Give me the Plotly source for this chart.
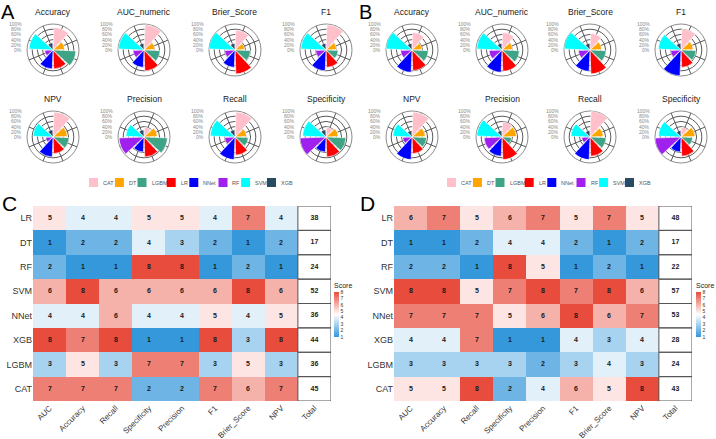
import plotly.graph_objects as go

W, H = 716, 439
FONT = "Liberation Sans"

# ---------------- data ----------------
models = ["CAT", "DT", "LGBM", "LR", "NNet", "RF", "SVM", "XGB"]
model_colors = ["#FFC0CB", "#FFA500", "#3EA485", "#FF0000", "#0000FF", "#A020F0", "#00FFFF", "#284B64"]
polar_metrics = ["Accuracy", "AUC_numeric", "Brier_Score", "F1", "NPV", "Precision", "Recall", "Specificity"]

# panel A rose values (% of max radius), order = models
A_accuracy    = [87, 45, 88, 73, 73, 32, 92, 28]
A_auc         = [97, 42, 62, 80, 67, 42, 98, 26]
A_brier       = [77, 37, 60, 92, 67, 40, 100, 26]
A_f1          = [97, 41, 47, 67, 80, 40, 97, 26]
A_npv         = [96, 55, 62, 64, 77, 28, 77, 28]
A_precision   = [38, 51, 90, 77, 58, 96, 70, 28]
A_recall      = [96, 45, 51, 70, 87, 40, 95, 28]
A_specificity = [38, 47, 77, 77, 58, 100, 90, 28]

# panel B rose values
B_accuracy    = [68, 38, 63, 79, 86, 44, 100, 26]
B_auc         = [68, 41, 67, 82, 86, 50, 97, 26]
B_brier       = [64, 45, 62, 92, 82, 45, 100, 26]
B_f1          = [81, 47, 58, 67, 99, 40, 87, 26]
B_npv         = [96, 51, 56, 64, 87, 36, 74, 25]
B_precision   = [58, 56, 37, 87, 74, 69, 97, 25]
B_recall      = [99, 51, 62, 74, 87, 32, 74, 25]
B_specificity = [38, 54, 45, 74, 58, 100, 87, 25]

radial_labels = ["0%", "20%", "40%", "60%", "80%", "100%"]

heat_metrics = ["AUC", "Accuracy", "Recall", "Specificity", "Precision", "F1", "Brier_Score", "NPV"]
heat_models = ["LR", "DT", "RF", "SVM", "NNet", "XGB", "LGBM", "CAT"]
C_scores = [
    [5, 4, 4, 5, 5, 4, 7, 4],
    [1, 2, 2, 4, 3, 2, 1, 2],
    [2, 1, 1, 8, 8, 1, 2, 1],
    [6, 8, 6, 6, 6, 6, 8, 6],
    [4, 4, 6, 4, 4, 5, 4, 5],
    [8, 7, 8, 1, 1, 8, 3, 8],
    [3, 5, 3, 7, 7, 3, 5, 3],
    [7, 7, 7, 2, 2, 7, 6, 7],
]
C_totals = [38, 17, 24, 52, 36, 44, 36, 45]
D_scores = [
    [6, 7, 5, 6, 7, 5, 7, 5],
    [1, 1, 2, 4, 4, 2, 1, 2],
    [2, 2, 1, 8, 5, 1, 2, 1],
    [8, 8, 5, 7, 8, 7, 8, 6],
    [7, 7, 7, 5, 6, 8, 6, 7],
    [4, 4, 7, 1, 1, 4, 3, 4],
    [3, 3, 3, 3, 2, 3, 4, 3],
    [5, 5, 8, 2, 4, 6, 5, 8],
]
D_totals = [48, 17, 22, 57, 53, 28, 24, 43]

A_vals = [A_accuracy, A_auc, A_brier, A_f1, A_npv, A_precision, A_recall, A_specificity]
B_vals = [B_accuracy, B_auc, B_brier, B_f1, B_npv, B_precision, B_recall, B_specificity]

# ---------------- helpers ----------------
def px(x):
    return x / W

def py(y):
    return 1 - y / H

fig = go.Figure()
annotations = []
shapes = []

R = 26
GRID = "#5a5a5a"
panels = [
    ("A", A_vals, [53, 144, 235, 326], 0, 89),
    ("B", B_vals, [412, 502, 590, 681], 358, 447),
]
row_cy = [50, 137]

n = 0
for letter, vals, cxs, xoff, leg_x0 in panels:
    annotations.append(dict(x=px(xoff), y=py(1), xref="paper", yref="paper", text=letter,
                            showarrow=False, xanchor="left", yanchor="top", width=14, height=19,
                            borderpad=0, align="left", valign="middle",
                            font=dict(family=FONT, size=20, color="black")))
    for i, metric in enumerate(polar_metrics):
        n += 1
        name = "polar" if n == 1 else f"polar{n}"
        cx = cxs[i % 4]
        cy = row_cy[i // 4]
        fig.add_trace(go.Barpolar(
            r=vals[i], theta=models, subplot=name,
            marker=dict(color=model_colors, line=dict(color="white", width=0.6)),
            showlegend=False, hoverinfo="skip"))
        fig.layout[name] = dict(
            domain=dict(x=[px(cx - R), px(cx + R)], y=[py(cy + R), py(cy - R)]),
            bgcolor="white",
            angularaxis=dict(rotation=67.5, direction="clockwise", showticklabels=False, ticks="",
                             showline=True, linecolor=GRID, linewidth=0.7,
                             gridcolor=GRID, gridwidth=0.6, layer="below traces"),
            radialaxis=dict(range=[0, 100], tickvals=[20, 40, 60, 80, 100], showticklabels=False,
                            ticks="", showline=False, gridcolor=GRID, gridwidth=0.6,
                            layer="below traces"),
        )
        annotations.append(dict(x=px(cx), y=py(cy - 38), xref="paper", yref="paper", text=metric,
                                showarrow=False, xanchor="center", yanchor="middle",
                                font=dict(family=FONT, size=8.5, color="#1a1a1a")))
        for k, lab in enumerate(radial_labels):
            annotations.append(dict(x=px(cx - 30), y=py(cy - R * k / 5), xref="paper", yref="paper",
                                    text=lab, showarrow=False, xanchor="right", yanchor="middle",
                                    borderpad=0,
                                    font=dict(family=FONT, size=5, color="#8a8a8a")))
    # manual legend
    lx = leg_x0
    ly = 182.5
    for m, c in zip(models, model_colors):
        shapes.append(dict(type="rect", xref="paper", yref="paper", x0=px(lx), x1=px(lx + 9),
                           y0=py(ly + 4.5), y1=py(ly - 4.5), fillcolor=c, line=dict(width=0)))
        annotations.append(dict(x=px(lx + 12), y=py(ly), xref="paper", yref="paper", text=m,
                                showarrow=False, xanchor="left", yanchor="middle",
                                font=dict(family=FONT, size=5.5, color="#555555")))
        lx += 9 + 3 + len(m) * 3.3 + 4

# ---------------- heatmaps ----------------
def lerp(c1, c2, t):
    return "rgb(%d,%d,%d)" % tuple(round(a + (b - a) * t) for a, b in zip(c1, c2))

blue = (52, 152, 219)
white = (255, 255, 255)
red = (231, 76, 60)
cscale = []
steps = 14
for s in range(steps + 1):
    t = s / steps
    v = 1 + 7 * t
    if v <= 4.5:
        col = lerp(blue, white, (v - 1) / 3.5)
    else:
        col = lerp(white, red, (v - 4.5) / 3.5)
    cscale.append([t, col])

xcats = heat_metrics + ["Total"]
heat_panels = [
    ("C", C_scores, C_totals, "x", "y", 33, 331, 0, 334),
    ("D", D_scores, D_totals, "x2", "y2", 394, 692, 358, 696),
]
top, bottom = 206, 401
for letter, scores, totals, xa, ya, x0, x1, xoff, cbx in heat_panels:
    fig.add_trace(go.Heatmap(
        z=scores, x=heat_metrics, y=heat_models, xaxis=xa, yaxis=ya,
        colorscale=cscale, zmin=1, zmax=8,
        texttemplate="%{z}", textfont=dict(family=FONT, size=7, color="#1a1a1a", weight="bold"),
        hoverinfo="skip",
        colorbar=dict(title=dict(text="Score", side="top", font=dict(family=FONT, size=7, color="#222")),
                      x=px(cbx), xanchor="left", y=py((280 + 337) / 2), yanchor="middle",
                      len=57, lenmode="pixels", thickness=5, thicknessmode="pixels",
                      xpad=0, ypad=0, outlinewidth=0, tickvals=list(range(1, 9)), ticks="",
                      tickfont=dict(family=FONT, size=5, color="#333"))))
    fig.add_trace(go.Scatter(
        x=["Total"] * len(totals), y=heat_models, text=[str(t) for t in totals], mode="text",
        xaxis=xa, yaxis=ya, textfont=dict(family=FONT, size=7, color="#1a1a1a", weight="bold"),
        showlegend=False, hoverinfo="skip"))
    for j in range(len(heat_models)):
        shapes.append(dict(type="rect", xref=xa, yref=ya, x0=len(heat_metrics) - 0.5,
                           x1=len(heat_metrics) + 0.5, y0=j - 0.5, y1=j + 0.5,
                           fillcolor="rgba(0,0,0,0)", line=dict(color="#555555", width=1),
                           layer="above"))
    axname_x = "xaxis" if xa == "x" else "xaxis2"
    axname_y = "yaxis" if ya == "y" else "yaxis2"
    fig.layout[axname_x] = dict(domain=[px(x0), px(x1)], anchor=ya, type="category",
                                categoryorder="array", categoryarray=xcats,
                                range=[-0.5, len(xcats) - 0.5], tickangle=-45, showgrid=False,
                                zeroline=False, showline=False, ticks="",
                                tickfont=dict(family=FONT, size=8, color="#333333"))
    fig.layout[axname_y] = dict(domain=[py(bottom), py(top)], anchor=xa, type="category",
                                categoryorder="array", categoryarray=heat_models,
                                range=[len(heat_models) - 0.5, -0.5], showgrid=False,
                                zeroline=False, showline=False, ticks="",
                                tickfont=dict(family=FONT, size=9, color="#333333"))
    annotations.append(dict(x=px(xoff), y=py(203), xref="paper", yref="paper", text=letter,
                            showarrow=False, xanchor="left", yanchor="middle",
                            font=dict(family=FONT, size=21, color="black")))

fig.update_layout(width=W, height=H, margin=dict(l=0, r=0, t=0, b=0),
                  paper_bgcolor="white", plot_bgcolor="white", showlegend=False,
                  annotations=annotations, shapes=shapes,
                  font=dict(family=FONT))
fig.write_html("out.html")
